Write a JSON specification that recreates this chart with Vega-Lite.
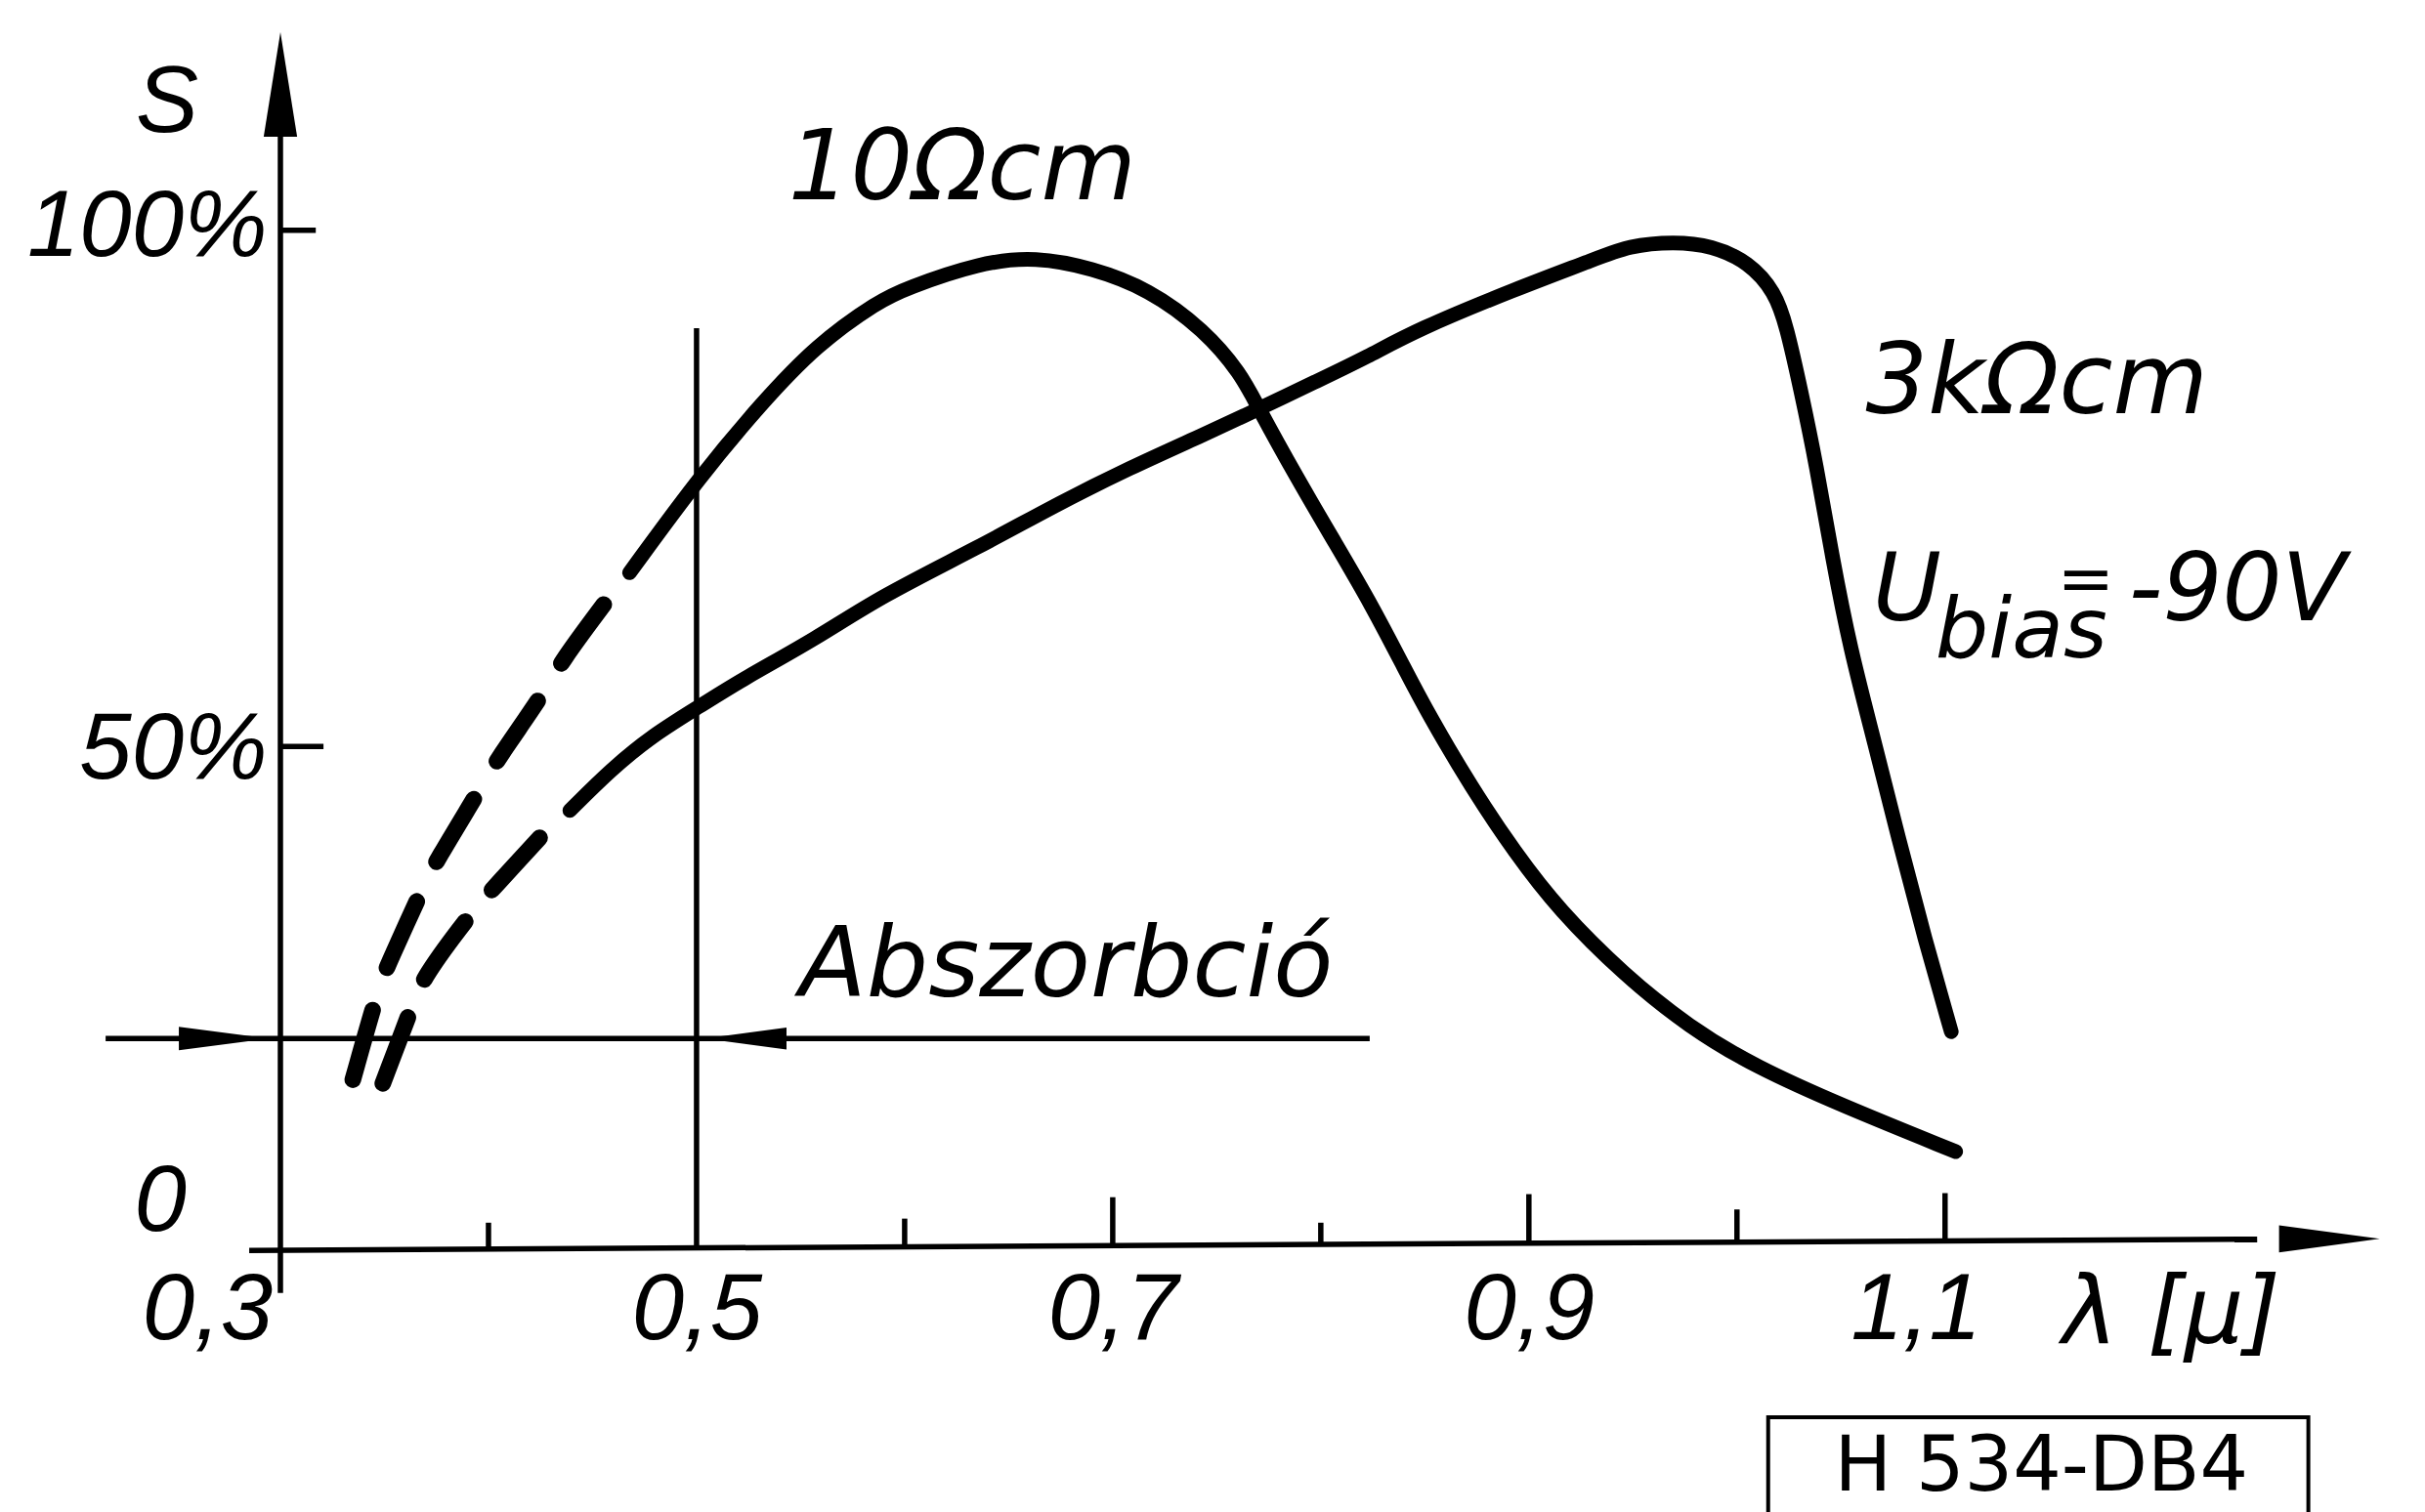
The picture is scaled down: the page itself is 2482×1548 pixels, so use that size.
{
  "$schema": "https://vega.github.io/schema/vega-lite/v6.json",
  "width": 2151,
  "height": 1253,
  "autosize": {"type": "none"},
  "padding": {"left": 287, "top": 27, "right": 44, "bottom": 268},
  "background": "white",
  "config": {"view": {"stroke": null}},
  "datasets": {
    "curves": [
      {"c": "10", "p": "dash", "x": 0.3348, "y": 16.72},
      {"c": "10", "p": "dash", "x": 0.3474, "y": 25.89},
      {"c": "10", "p": "dash", "x": 0.3519, "y": 28.09},
      {"c": "10", "p": "dash", "x": 0.3690, "y": 35.79},
      {"c": "10", "p": "dash", "x": 0.3744, "y": 37.99},
      {"c": "10", "p": "dash", "x": 0.3968, "y": 45.50},
      {"c": "10", "p": "dash", "x": 0.4040, "y": 48.07},
      {"c": "10", "p": "dash", "x": 0.4274, "y": 54.85},
      {"c": "10", "p": "dash", "x": 0.4346, "y": 57.63},
      {"c": "10", "p": "dash", "x": 0.4561, "y": 63.50},
      {"c": "3k", "p": "dash", "x": 0.3492, "y": 16.36},
      {"c": "3k", "p": "dash", "x": 0.3636, "y": 24.06},
      {"c": "3k", "p": "dash", "x": 0.3681, "y": 26.63},
      {"c": "3k", "p": "dash", "x": 0.3923, "y": 33.22},
      {"c": "3k", "p": "dash", "x": 0.4004, "y": 35.06},
      {"c": "3k", "p": "dash", "x": 0.4292, "y": 41.47},
      {"c": "10", "p": "solid", "x": 0.4678, "y": 66.43},
      {"c": "10", "p": "solid", "x": 0.5019, "y": 75.96},
      {"c": "10", "p": "solid", "x": 0.5307, "y": 82.92},
      {"c": "10", "p": "solid", "x": 0.5576, "y": 88.78},
      {"c": "10", "p": "solid", "x": 0.5878, "y": 93.10},
      {"c": "10", "p": "solid", "x": 0.6002, "y": 94.28},
      {"c": "10", "p": "solid", "x": 0.6362, "y": 96.85},
      {"c": "10", "p": "solid", "x": 0.6631, "y": 97.41},
      {"c": "10", "p": "solid", "x": 0.6901, "y": 96.30},
      {"c": "10", "p": "solid", "x": 0.7170, "y": 94.28},
      {"c": "10", "p": "solid", "x": 0.7440, "y": 90.25},
      {"c": "10", "p": "solid", "x": 0.7619, "y": 85.85},
      {"c": "10", "p": "solid", "x": 0.7691, "y": 82.92},
      {"c": "10", "p": "solid", "x": 0.7889, "y": 75.59},
      {"c": "10", "p": "solid", "x": 0.8069, "y": 69.36},
      {"c": "10", "p": "solid", "x": 0.8248, "y": 63.13},
      {"c": "10", "p": "solid", "x": 0.8405, "y": 56.93},
      {"c": "10", "p": "solid", "x": 0.8515, "y": 52.64},
      {"c": "10", "p": "solid", "x": 0.8724, "y": 45.37},
      {"c": "10", "p": "solid", "x": 0.8934, "y": 38.97},
      {"c": "10", "p": "solid", "x": 0.9143, "y": 33.40},
      {"c": "10", "p": "solid", "x": 0.9458, "y": 26.99},
      {"c": "10", "p": "solid", "x": 0.9772, "y": 21.86},
      {"c": "10", "p": "solid", "x": 1.0086, "y": 18.01},
      {"c": "10", "p": "solid", "x": 1.0506, "y": 14.17},
      {"c": "10", "p": "solid", "x": 1.1051, "y": 9.67},
      {"c": "3k", "p": "solid", "x": 0.4391, "y": 43.12},
      {"c": "3k", "p": "solid", "x": 0.4589, "y": 47.14},
      {"c": "3k", "p": "solid", "x": 0.4786, "y": 50.45},
      {"c": "3k", "p": "solid", "x": 0.5019, "y": 53.38},
      {"c": "3k", "p": "solid", "x": 0.5217, "y": 55.95},
      {"c": "3k", "p": "solid", "x": 0.5576, "y": 59.98},
      {"c": "3k", "p": "solid", "x": 0.5878, "y": 64.04},
      {"c": "3k", "p": "solid", "x": 0.6362, "y": 68.99},
      {"c": "3k", "p": "solid", "x": 0.6721, "y": 73.03},
      {"c": "3k", "p": "solid", "x": 0.7080, "y": 76.70},
      {"c": "3k", "p": "solid", "x": 0.7440, "y": 79.99},
      {"c": "3k", "p": "solid", "x": 0.7691, "y": 82.38},
      {"c": "3k", "p": "solid", "x": 0.7979, "y": 85.20},
      {"c": "3k", "p": "solid", "x": 0.8225, "y": 87.60},
      {"c": "3k", "p": "solid", "x": 0.8460, "y": 90.25},
      {"c": "3k", "p": "solid", "x": 0.8944, "y": 94.31},
      {"c": "3k", "p": "solid", "x": 0.9303, "y": 97.06},
      {"c": "3k", "p": "solid", "x": 0.9483, "y": 98.52},
      {"c": "3k", "p": "solid", "x": 0.9699, "y": 98.89},
      {"c": "3k", "p": "solid", "x": 0.9878, "y": 98.52},
      {"c": "3k", "p": "solid", "x": 1.0058, "y": 96.88},
      {"c": "3k", "p": "solid", "x": 1.0183, "y": 93.95},
      {"c": "3k", "p": "solid", "x": 1.0238, "y": 90.64},
      {"c": "3k", "p": "solid", "x": 1.0306, "y": 84.41},
      {"c": "3k", "p": "solid", "x": 1.0381, "y": 77.08},
      {"c": "3k", "p": "solid", "x": 1.0458, "y": 67.92},
      {"c": "3k", "p": "solid", "x": 1.0545, "y": 58.90},
      {"c": "3k", "p": "solid", "x": 1.0655, "y": 50.30},
      {"c": "3k", "p": "solid", "x": 1.0778, "y": 40.25},
      {"c": "3k", "p": "solid", "x": 1.0904, "y": 30.41},
      {"c": "3k", "p": "solid", "x": 1.1030, "y": 21.43}
    ],
    "rules": [
      {"x": 0.285, "y": -0.02, "x2": 1.25, "y2": 1.08},
      {"x": 0.3, "y": -4.2, "x2": 0.3, "y2": 112},
      {"x": 0.4, "y": 0.11, "x2": 0.4, "y2": 2.7},
      {"x": 0.6, "y": 0.34, "x2": 0.6, "y2": 3.1},
      {"x": 0.7, "y": 0.455, "x2": 0.7, "y2": 5.2},
      {"x": 0.8, "y": 0.57, "x2": 0.8, "y2": 2.7},
      {"x": 0.9, "y": 0.68, "x2": 0.9, "y2": 5.5},
      {"x": 1.0, "y": 0.8, "x2": 1.0, "y2": 4.0},
      {"x": 1.1, "y": 0.91, "x2": 1.1, "y2": 5.6},
      {"x": 0.3, "y": 100, "x2": 0.317, "y2": 100},
      {"x": 0.3, "y": 49.4, "x2": 0.3207, "y2": 49.4},
      {"x": 0.5, "y": 0.23, "x2": 0.5, "y2": 90.4},
      {"x": 0.216, "y": 20.76, "x2": 0.8235, "y2": 20.76}
    ],
    "arrows": [
      {"k": "up", "x": 0.3, "y": 114.3},
      {"k": "xr", "x": 1.2847, "y": 1.12},
      {"k": "hr", "x": 0.2728, "y": 20.76},
      {"k": "hl", "x": 0.5235, "y": 20.76}
    ],
    "tnum": [
      {"t": "S", "x": 0.2455, "y": 109.7},
      {"t": "0", "x": 0.2423, "y": 1.92}
    ],
    "tword": [
      {"t": "10Ωcm", "x": 0.6277, "y": 103.07},
      {"t": "3kΩcm", "x": 1.1441, "y": 82.04},
      {"t": "Abszorbció", "x": 0.6777, "y": 24.9}
    ],
    "tleft": [
      {"t": "U", "x": 1.0653, "y": 61.78},
      {"t": "-90V", "x": 1.1883, "y": 61.78},
      {"t": "λ [μ]", "x": 1.1563, "y": -9.1}
    ],
    "tsub": [{"t": "bias", "x": 1.0953, "y": 58.14}],
    "teq": [{"t": "=", "x": 1.1676, "y": 65.6}],
    "tbox": [{"t": "H 534-DB4", "x": 1.1463, "y": -23.6}],
    "box": [{"x": 1.015, "y": -16.38, "x2": 1.2746, "y2": -27.5}]
  },
  "encoding": {
    "x": {
      "field": "x", "type": "quantitative",
      "scale": {"domain": [0.3, 1.31], "nice": false, "zero": false},
      "axis": {
        "values": [0.3, 0.5, 0.7, 0.9, 1.1],
        "labelExpr": "replace(format(datum.value, '.1f'), '.', ',')",
        "title": null, "domain": false, "ticks": false, "tickSize": 0, "grid": false,
        "labelFont": "Liberation Sans", "labelFontStyle": "italic", "labelFontSize": 96,
        "labelColor": "#000", "labelPadding": 14, "labelBaseline": "top", "labelAlign": "center",
        "labelOffset": {"condition": [{"test": "datum.value < 0.35", "value": -75}, {"test": "datum.value > 1.05", "value": -30}], "value": 0},
        "labelOverlap": false, "labelFlush": false, "labelBound": false, "labelLimit": 0
      }
    },
    "y": {
      "field": "y", "type": "quantitative",
      "scale": {"domain": [0, 120], "nice": false, "zero": false},
      "axis": {
        "values": [50, 100],
        "labelExpr": "datum.value + '%'",
        "title": null, "domain": false, "ticks": false, "tickSize": 0, "grid": false,
        "labelFont": "Liberation Sans", "labelFontStyle": "italic", "labelFontSize": 96,
        "labelColor": "#000", "labelPadding": 14, "labelBaseline": "middle",
        "labelOffset": {"condition": {"test": "datum.value == 50", "value": 10}, "value": -3},
        "labelOverlap": false, "labelBound": false, "labelLimit": 0
      }
    }
  },
  "layer": [
    {
      "data": {"name": "rules"},
      "mark": {"type": "rule", "color": "#000", "strokeWidth": 5.5},
      "encoding": {"x2": {"field": "x2"}, "y2": {"field": "y2"}}
    },
    {
      "data": {"name": "box"},
      "mark": {"type": "rect", "filled": false, "stroke": "#000", "strokeWidth": 4},
      "encoding": {"x2": {"field": "x2"}, "y2": {"field": "y2"}}
    },
    {
      "data": {"name": "curves"},
      "transform": [{"filter": "datum.p == 'solid'"}],
      "mark": {"type": "line", "color": "#000", "strokeWidth": 15, "strokeCap": "round", "strokeJoin": "round", "interpolate": "basis"},
      "encoding": {"detail": {"field": "c"}}
    },
    {
      "data": {"name": "curves"},
      "transform": [{"filter": "datum.p == 'dash' && datum.c == '10'"}],
      "mark": {"type": "line", "color": "#000", "strokeWidth": 17, "strokeCap": "round", "strokeDash": [74, 46], "interpolate": "basis"},
      "encoding": {}
    },
    {
      "data": {"name": "curves"},
      "transform": [{"filter": "datum.p == 'dash' && datum.c == '3k'"}],
      "mark": {"type": "line", "color": "#000", "strokeWidth": 17, "strokeCap": "round", "strokeDash": [72, 43], "interpolate": "basis"},
      "encoding": {}
    },
    {
      "data": {"name": "arrows"},
      "transform": [{"filter": "datum.k == 'up'"}],
      "mark": {"type": "point", "shape": "M0,-1L0.32,1L-0.32,1Z", "size": 11449, "filled": true, "opacity": 1, "color": "#000", "strokeWidth": 0}
    },
    {
      "data": {"name": "arrows"},
      "transform": [{"filter": "datum.k == 'xr'"}],
      "mark": {"type": "point", "shape": "M1,0L-1,-0.27L-1,0.27Z", "size": 10609, "filled": true, "opacity": 1, "color": "#000", "strokeWidth": 0}
    },
    {
      "data": {"name": "arrows"},
      "transform": [{"filter": "datum.k == 'hr'"}],
      "mark": {"type": "point", "shape": "M1,0L-1,-0.26L-1,0.26Z", "size": 8464, "filled": true, "opacity": 1, "color": "#000", "strokeWidth": 0}
    },
    {
      "data": {"name": "arrows"},
      "transform": [{"filter": "datum.k == 'hl'"}],
      "mark": {"type": "point", "shape": "M-1,0L1,-0.27L1,0.27Z", "size": 7056, "filled": true, "opacity": 1, "color": "#000", "strokeWidth": 0}
    },
    {
      "data": {"name": "tnum"},
      "mark": {"type": "text", "font": "Liberation Sans", "fontStyle": "italic", "fontSize": 96, "color": "#000", "align": "center", "baseline": "alphabetic"},
      "encoding": {"text": {"field": "t"}}
    },
    {
      "data": {"name": "tword"},
      "mark": {"type": "text", "font": "DejaVu Sans", "fontStyle": "italic", "fontSize": 100, "color": "#000", "align": "center", "baseline": "alphabetic"},
      "encoding": {"text": {"field": "t"}}
    },
    {
      "data": {"name": "tleft"},
      "mark": {"type": "text", "font": "DejaVu Sans", "fontStyle": "italic", "fontSize": 96, "color": "#000", "align": "left", "baseline": "alphabetic"},
      "encoding": {"text": {"field": "t"}}
    },
    {
      "data": {"name": "tsub"},
      "mark": {"type": "text", "font": "DejaVu Sans", "fontStyle": "italic", "fontSize": 86, "color": "#000", "align": "left", "baseline": "alphabetic"},
      "encoding": {"text": {"field": "t"}}
    },
    {
      "data": {"name": "teq"},
      "mark": {"type": "text", "font": "DejaVu Sans", "fontSize": 70, "color": "#000", "align": "center", "baseline": "middle"},
      "encoding": {"text": {"field": "t"}}
    },
    {
      "data": {"name": "tbox"},
      "mark": {"type": "text", "font": "DejaVu Sans", "fontSize": 78, "color": "#000", "align": "center", "baseline": "alphabetic"},
      "encoding": {"text": {"field": "t"}}
    }
  ]
}
